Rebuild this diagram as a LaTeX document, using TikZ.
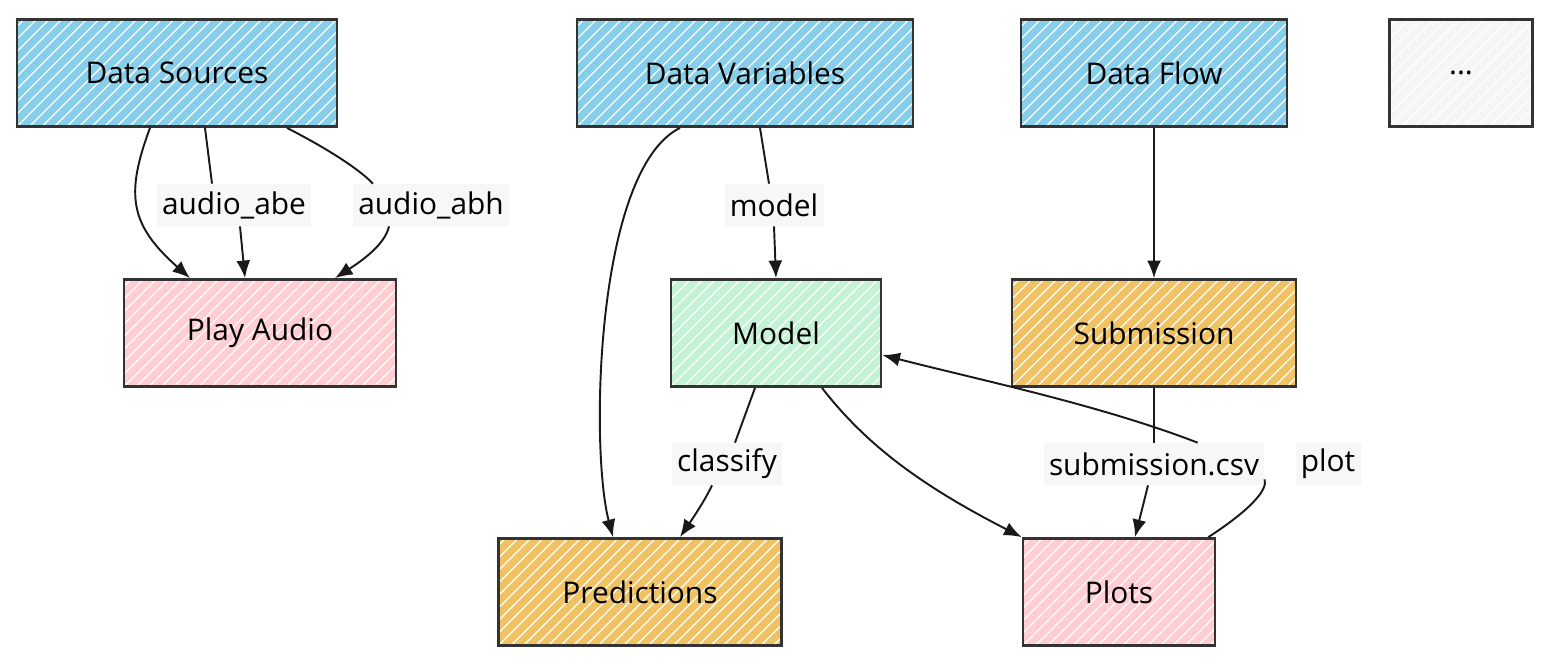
\documentclass[tikz,border=0pt]{standalone}
\usepackage{fontspec}
\setmainfont{Open Sans}
\usepackage{tikz}
\usetikzlibrary{positioning,
        calc,
        arrows.meta}
\usepackage{xcolor}
\definecolor{skyfill}{HTML}{87CEEB}
\definecolor{pinkfill}{HTML}{FFCDD2}
\definecolor{mintfill}{HTML}{C3F2D5}
\definecolor{amberfill}{HTML}{F0C263}
\definecolor{greyfill}{HTML}{F5F5F5}
\definecolor{lblfill}{HTML}{F7F7F7}
\tikzset{hatch/.style={path picture={\foreach \k in {-9,...,28}
      \draw[white,line width=0.7pt] ([xshift=\k*0.25cm]path picture bounding box.south west) -- ++(3cm,3cm);}},
    box/.style={draw=black!80,line width=1.6pt,minimum height=2.14cm,hatch,font=\fontsize{17}{20}\selectfont},
    lbl/.style={fill=lblfill,inner sep=3pt,minimum height=0.84cm,font=\fontsize{17}{20}\selectfont},
    line/.style={line width=1.1pt,black!90},
    edge/.style={line,-{Latex[length=10pt,width=8pt]}}}

\begin{document}
\begin{tikzpicture}[x=0.02cm,y=-0.02cm]
            \useasboundingbox (0,0) rectangle (1568,670);
            \node [box,fill=skyfill,minimum width=6.4cm] (DS) at (177,73) {Data Sources};
            \node [box,fill=skyfill,minimum width=6.72cm] (DV) at (745,73) {Data Variables};
            \node [box,fill=skyfill,minimum width=5.32cm] (DF) at (1154,73) {Data Flow};
            \node [box,fill=greyfill,minimum width=2.86cm] (more) at (1461,73) {...};
            \node [box,fill=pinkfill,minimum width=5.44cm] (PA) at (260,333) {Play Audio};
            \node [box,fill=mintfill,minimum width=4.2cm] (Mo) at (776,333) {Model};
            \node [box,fill=amberfill,minimum width=5.68cm] (Sub) at (1154,333) {Submission};
            \node [box,fill=amberfill,minimum width=5.66cm] (Pred) at (640,592) {Predictions};
            \node [box,fill=pinkfill,minimum width=3.84cm] (Plots) at (1119,592) {Plots};

            \node [lbl] (abe) at (234,205) {audio\_abe};
            \node [lbl] (abh) at (431,205) {audio\_abh};
            \node [lbl] (mdl) at (774,205) {model};
            \node [lbl] (cls) at (727,464) {classify};
            \node [lbl] (csv) at (1154,464) {submission.csv};
            \node [lbl] (plt) at (1328,464) {plot};

            \draw [edge] ($(DS.south)+(-27,0)$) .. controls (125,195) and (130,225) .. ($(PA.north)+(-70,0)$);
            \draw [line] ($(DS.south)+(28,0)$) -- ($(abe.north)+(-22,0)$);
            \draw [edge] ($(abe.south)+(6,0)$) -- ($(PA.north)+(-15,0)$);
            \draw [line] ($(DS.south)+(110,0)$) .. controls (330,150) and (360,170) .. ($(abh.north)+(-58,0)$);
            \draw [edge] ($(abh.south)+(-42,0)$) .. controls (385,245) and (360,262) .. ($(PA.north)+(75,0)$);
            \draw [edge] ($(DV.south)+(-65,0)$) .. controls (595,170) and (590,450) .. ($(Pred.north)+(-27,0)$);
            \draw [line] ($(DV.south)+(15,0)$) -- ($(mdl.north)+(-5,0)$);
            \draw [edge] (mdl.south) -- (Mo.north);
            \draw [edge] (DF) -- (Sub);
            \draw [line] ($(Mo.south)+(-21,0)$) -- ($(cls.north)+(8,0)$);
            \draw [edge] ($(cls.south)+(-15,0)$) .. controls (705,500) and (695,515) .. ($(Pred.north)+(40,0)$);
            \draw [edge] ($(Mo.south)+(46,0)$) .. controls (870,450) and (930,490) .. (Plots.north west);
            \draw [line] (Sub.south) -- (csv.north);
            \draw [edge] ($(csv.south)+(-6,0)$) -- ($(Plots.north)+(16,0)$);
            \draw [line] ($(Plots.north east)+(-8,0)$) .. controls (1250,510) and (1268,490) .. ($(csv.south east)+(0,-6)$);
            \draw [edge] ($(csv.north east)+(-67,0)$) .. controls (1100,405) and (980,380) .. ($(Mo.east)+(0,22)$);
        \end{tikzpicture}
\end{document}
